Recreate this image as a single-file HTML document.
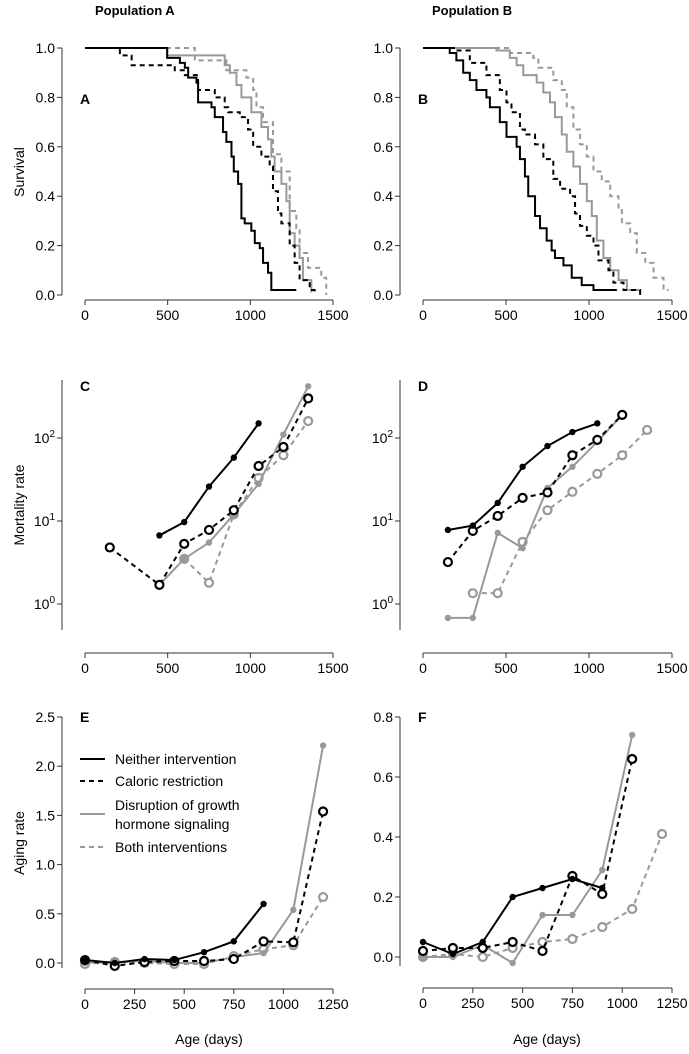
<!DOCTYPE html>
<html><head><meta charset="utf-8"><style>
html,body{margin:0;padding:0;background:#fff}
svg{display:block;font-family:"Liberation Sans",sans-serif}
</style></head><body>
<svg id="fig" width="689" height="1054" viewBox="0 0 689 1054">
<text x="95" y="15" font-size="13" font-weight="bold">Population A</text>
<text x="432" y="15" font-size="13" font-weight="bold">Population B</text>
<text transform="translate(24,172) rotate(-90)" font-size="14" text-anchor="middle">Survival</text>
<text transform="translate(24,505) rotate(-90)" font-size="14" text-anchor="middle">Mortality rate</text>
<text transform="translate(24,843) rotate(-90)" font-size="14" text-anchor="middle">Aging rate</text>
<text x="209" y="1044" font-size="14" text-anchor="middle">Age (days)</text>
<text x="547" y="1044" font-size="14" text-anchor="middle">Age (days)</text>
<g>
<line x1="80" y1="759" x2="105" y2="759" stroke="#000" stroke-width="2"/>
<text x="115" y="764" font-size="14">Neither intervention</text>
<line x1="80" y1="781" x2="105" y2="781" stroke="#000" stroke-width="2" stroke-dasharray="5,4"/>
<text x="115" y="786" font-size="14">Caloric restriction</text>
<line x1="80" y1="814" x2="105" y2="814" stroke="#999" stroke-width="2"/>
<text x="115" y="810" font-size="14">Disruption of growth</text>
<text x="115" y="829" font-size="14">hormone signaling</text>
<line x1="80" y1="847" x2="105" y2="847" stroke="#999" stroke-width="2" stroke-dasharray="5,4"/>
<text x="115" y="852" font-size="14">Both interventions</text>
</g>
</svg>
<script>
// Survival A
const aNeitherT=[0,497,574,604,624,674,684,765,785,835,855,886,900,926,946,966,1006,1027,1057,1077,1107,1127,1278];
const aNeitherS=[1,.96,.94,.92,.88,.86,.78,.76,.72,.66,.62,.56,.50,.45,.31,.29,.26,.21,.19,.13,.09,.02,.02];
const aCrT=[0,211,282,543,604,684,785,845,866,936,986,1017,1067,1117,1137,1167,1188,1238,1268,1298,1359,1389];
const aCrS=[1,.97,.93,.91,.89,.83,.80,.76,.74,.72,.67,.60,.56,.52,.42,.33,.29,.20,.13,.06,.02,0];
const aGhT=[0,497,845,876,916,946,1006,1067,1107,1127,1147,1188,1218,1238,1268,1298,1318,1369];
const aGhS=[1,.97,.93,.90,.85,.80,.74,.68,.63,.56,.50,.45,.38,.25,.20,.15,.06,.01];
const aBothT=[0,664,855,976,1017,1037,1077,1137,1188,1238,1278,1298,1349,1429,1459];
const aBothS=[1,.95,.91,.88,.83,.76,.70,.57,.50,.34,.27,.17,.11,.07,.0];
// Survival B
const bNeitherT=[0,161,201,242,282,322,382,403,463,503,564,584,614,634,675,705,745,775,795,846,896,956,1027,1168];
const bNeitherS=[1,.98,.95,.90,.87,.83,.80,.76,.70,.64,.60,.55,.48,.40,.32,.27,.22,.18,.15,.12,.07,.04,.02,.02];
const bCrT=[0,201,282,382,463,503,533,584,614,675,725,785,826,886,916,946,987,1027,1057,1117,1147,1208,1308];
const bCrS=[1,.99,.94,.89,.83,.78,.74,.67,.65,.61,.55,.47,.43,.40,.33,.28,.24,.20,.14,.10,.05,.02,0];
const bGhT=[0,443,523,564,604,685,725,765,795,836,866,906,946,987,1017,1047,1087,1128,1178,1228,1308];
const bGhS=[1,.99,.96,.93,.89,.86,.82,.78,.72,.65,.58,.52,.45,.38,.32,.22,.15,.10,.06,.02,.02];
const bBothT=[0,523,664,695,785,836,866,906,946,987,1027,1077,1128,1178,1198,1248,1288,1339,1389,1449,1479];
const bBothS=[1,.98,.96,.92,.87,.83,.76,.67,.61,.56,.50,.46,.40,.35,.29,.25,.17,.13,.07,.02,.02];
// Mortality C
const cNeitherX=[450,600,750,900,1050], cNeitherY=[6.7,9.7,26,58,150];
const cCrX=[150,450,600,750,900,1050,1200,1350], cCrY=[4.8,1.7,5.3,7.8,13.5,46,78,300];
const cGhX=[450,600,750,900,1050,1200,1350], cGhY=[1.7,3.5,5.5,12,28,110,420];
const cBothX=[600,750,900,1050,1200,1350], cBothY=[3.5,1.8,12,33,62,160];
// Mortality D
const dNeitherX=[150,300,450,600,750,900,1050], dNeitherY=[7.8,8.8,16.5,45,80,118,150];
const dCrX=[150,300,450,600,750,900,1050,1200], dCrY=[3.2,7.6,11.5,19,22,62,95,190];
const dGhX=[150,300,450,600,750,900,1050,1200], dGhY=[0.68,0.68,7.2,4.7,25,45,90,190];
const dBothX=[300,450,600,750,900,1050,1200,1350], dBothY=[1.35,1.35,5.6,13.5,22.5,37,62,125];
// Aging E
const eNeitherX=[0,150,300,450,600,750,900], eNeitherY=[0.03,0.0,0.04,0.03,0.11,0.22,0.60];
const eCrX=[0,150,300,450,600,750,900,1050,1200], eCrY=[0.03,-0.03,0.01,0.02,0.02,0.04,0.22,0.21,1.54];
const eGhX=[0,150,300,450,600,750,900,1050,1200], eGhY=[0,0.01,0.02,0.0,0.0,0.06,0.10,0.54,2.21];
const eBothX=[0,150,300,450,600,750,900,1050,1200], eBothY=[-0.01,0.01,0.0,-0.01,-0.01,0.07,0.14,0.18,0.67];
// Aging F
const fNeitherX=[0,150,300,450,600,750,900], fNeitherY=[0.05,0.01,0.05,0.20,0.23,0.26,0.23];
const fCrX=[0,150,300,450,600,750,900,1050], fCrY=[0.02,0.03,0.03,0.05,0.02,0.27,0.21,0.66];
const fGhX=[0,150,300,450,600,750,900,1050], fGhY=[0,0,0.04,-0.02,0.14,0.14,0.29,0.74];
const fBothX=[0,150,300,450,600,750,900,1050,1200], fBothY=[0,0.01,0,0.03,0.05,0.06,0.10,0.16,0.41];

const survTicks=[0,0.2,0.4,0.6,0.8,1.0], survTickLabels=["0.0","0.2","0.4","0.6","0.8","1.0"];
const xTicks1500=[0,500,1000,1500];
const xTicks1250=[0,250,500,750,1000,1250];
const logTicks=[0,1,2];
const eTicks=[0,0.5,1.0,1.5,2.0,2.5], eTickLabels=["0.0","0.5","1.0","1.5","2.0","2.5"];
const fTicks=[0,0.2,0.4,0.6,0.8], fTickLabels=["0.0","0.2","0.4","0.6","0.8"];

const svg=document.getElementById('fig');
const NS='http://www.w3.org/2000/svg';
function mk(tag,attrs,parent){const e=document.createElementNS(NS,tag);for(const k in attrs)e.setAttribute(k,attrs[k]);(parent||svg).appendChild(e);return e;}
const GRAY='#999', BLK='#000';
const styles={neither:{c:BLK,d:null},cr:{c:BLK,d:'5,4'},gh:{c:GRAY,d:null},both:{c:GRAY,d:'5,4'}};

function xAxis(g,x0,x1,xmax,ticks,y){
  const sx=v=>x0+(x1-x0)*v/xmax;
  mk('line',{x1:x0,y1:y,x2:x1,y2:y,stroke:'#333','stroke-width':1},g);
  ticks.forEach(t=>{mk('line',{x1:sx(t),y1:y,x2:sx(t),y2:y+5,stroke:'#333'},g);
    const tx=mk('text',{x:sx(t),y:y+20,'font-size':14,'text-anchor':'middle'},g);tx.textContent=t;});
  return sx;
}
function yAxis(g,ax,ytop,ybot,sy,ticks,labels,sup){
  mk('line',{x1:ax,y1:ytop,x2:ax,y2:ybot,stroke:'#333'},g);
  ticks.forEach((t,i)=>{const y=sy(t);mk('line',{x1:ax-5,y1:y,x2:ax,y2:y,stroke:'#333'},g);
    const tx=mk('text',{x:ax-7,y:y+5,'font-size':14,'text-anchor':'end'},g);
    if(sup){tx.textContent='10';const ts=mk('tspan',{dy:-6,'font-size':10},tx);ts.textContent=t;}
    else tx.textContent=labels[i];});
}
function panelLabel(g,x,y,t){const e=mk('text',{x:x,y:y,'font-size':14,'font-weight':'bold'},g);e.textContent=t;}

function steps(g,T,S,sx,sy,st,name){
  let d='M'+sx(T[0])+','+sy(S[0]);
  for(let i=1;i<T.length;i++){d+=' H'+sx(T[i])+' V'+sy(S[i]);}
  const p=mk('path',{d:d,fill:'none',stroke:st.c,'stroke-width':2},g);
  if(st.d)p.setAttribute('stroke-dasharray',st.d);
  
  
}
function series(g,X,Y,sx,sy,st,open,name){
  const pts=X.map((x,i)=>sx(x)+','+sy(Y[i])).join(' ');
  const l=mk('polyline',{points:pts,fill:'none',stroke:st.c,'stroke-width':2},g);
  if(st.d)l.setAttribute('stroke-dasharray',st.d);
  
  
  X.forEach((x,i)=>{
    const c=mk('circle',{cx:sx(x),cy:sy(Y[i]),r:open?4:3.2,fill:open?'#fff':st.c,stroke:st.c,'stroke-width':open?2.2:0},g);
    
    
  });
}

(function(){const g=mk('g',{});
 const sx=xAxis(g,85,333,1500,xTicks1500,300);const sy=v=>295-247*v;
 yAxis(g,62,48,295,sy,survTicks,survTickLabels);panelLabel(g,80,104,'A');
 steps(g,aBothT,aBothS,sx,sy,styles.both,'a-both-curve');steps(g,aGhT,aGhS,sx,sy,styles.gh,'a-gh-curve');
 steps(g,aCrT,aCrS,sx,sy,styles.cr,'a-cr-curve');steps(g,aNeitherT,aNeitherS,sx,sy,styles.neither,'a-neither-curve');})();
(function(){const g=mk('g',{});
 const sx=xAxis(g,423,672,1500,xTicks1500,300);const sy=v=>295-247*v;
 yAxis(g,400,48,295,sy,survTicks,survTickLabels);panelLabel(g,418,104,'B');
 steps(g,bBothT,bBothS,sx,sy,styles.both,'b-both-curve');steps(g,bGhT,bGhS,sx,sy,styles.gh,'b-gh-curve');
 steps(g,bCrT,bCrS,sx,sy,styles.cr,'b-cr-curve');steps(g,bNeitherT,bNeitherS,sx,sy,styles.neither,'b-neither-curve');})();
const logY=v=>604-83*Math.log10(v);
(function(){const g=mk('g',{});
 const sx=xAxis(g,85,333,1500,xTicks1500,653);
 yAxis(g,62,380,630,v=>604-83*v,logTicks,null,true);panelLabel(g,80,391,'C');
 series(g,cBothX,cBothY,sx,logY,styles.both,true,'c-both');series(g,cGhX,cGhY,sx,logY,styles.gh,false,'c-gh');
 series(g,cCrX,cCrY,sx,logY,styles.cr,true,'c-cr');series(g,cNeitherX,cNeitherY,sx,logY,styles.neither,false,'c-neither');})();
(function(){const g=mk('g',{});
 const sx=xAxis(g,423,672,1500,xTicks1500,653);
 yAxis(g,400,380,630,v=>604-83*v,logTicks,null,true);panelLabel(g,418,391,'D');
 series(g,dBothX,dBothY,sx,logY,styles.both,true,'d-both');series(g,dGhX,dGhY,sx,logY,styles.gh,false,'d-gh');
 series(g,dCrX,dCrY,sx,logY,styles.cr,true,'d-cr');series(g,dNeitherX,dNeitherY,sx,logY,styles.neither,false,'d-neither');})();
(function(){const g=mk('g',{});
 const sx=xAxis(g,85,333,1250,xTicks1250,989);const sy=v=>963-98.4*v;
 yAxis(g,62,717,968,sy,eTicks,eTickLabels);panelLabel(g,80,722,'E');
 series(g,eBothX,eBothY,sx,sy,styles.both,true,'e-both');series(g,eGhX,eGhY,sx,sy,styles.gh,false,'e-gh');
 series(g,eCrX,eCrY,sx,sy,styles.cr,true,'e-cr');series(g,eNeitherX,eNeitherY,sx,sy,styles.neither,false,'e-neither');})();
(function(){const g=mk('g',{});
 const sx=xAxis(g,423,672,1250,xTicks1250,988);const sy=v=>957-300*v;
 yAxis(g,400,717,966,sy,fTicks,fTickLabels);panelLabel(g,418,722,'F');
 series(g,fBothX,fBothY,sx,sy,styles.both,true,'f-both');series(g,fGhX,fGhY,sx,sy,styles.gh,false,'f-gh');
 series(g,fCrX,fCrY,sx,sy,styles.cr,true,'f-cr');series(g,fNeitherX,fNeitherY,sx,sy,styles.neither,false,'f-neither');})();
</script>
</body></html>
